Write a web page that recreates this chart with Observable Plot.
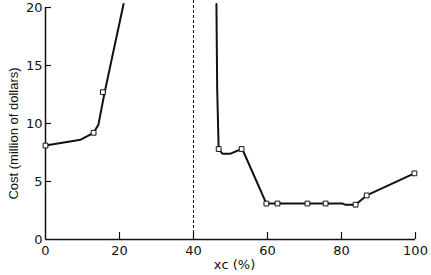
<!DOCTYPE html>
<html><head><meta charset="utf-8">
<script src="https://cdn.jsdelivr.net/npm/d3@7"></script>
<script src="https://cdn.jsdelivr.net/npm/@observablehq/plot@0.6"></script>
<style>
html,body{margin:0;padding:0;background:#fff;}
#chart svg{display:block;}
</style>
</head><body><div id="chart"></div>
<script>
// Left branch (line nodes)
const leftX = [0, 9.5, 13, 14.3, 16, 18.4, 21.1];
const leftY = [8.1, 8.6, 9.2, 9.9, 12.7, 16.3, 20.3];
// Right branch (line nodes)
const rightX = [46.2, 46.4, 46.8, 47.8, 50, 53, 53.6, 59.7, 62.7, 70.8, 75.7, 80.3, 81, 83.8, 86.8, 99.7];
const rightY = [20.3, 13, 7.8, 7.4, 7.4, 7.8, 7.5, 3.1, 3.1, 3.1, 3.1, 3.1, 3.0, 3.0, 3.8, 5.7];
// Markers
const markX = [0, 13, 15.5, 46.8, 53, 59.7, 62.7, 70.8, 75.7, 83.8, 86.8, 99.7];
const markY = [8.1, 9.2, 12.7, 7.8, 7.8, 3.1, 3.1, 3.1, 3.1, 3.0, 3.8, 5.7];
// Ticks and labels
const xTicks = [0, 20, 40, 60, 80, 100];
const yTicks = [0, 5, 10, 15, 20];
const xInnerTicks = [20, 40, 60, 80, 100];
const yInnerTicks = [5, 10, 15, 20];
const dividerX = [40];
const xLabel = "xᴄ (%)";
const yLabel = "Cost (million of dollars)";

const left = leftX.map((x, i) => ({x, y: leftY[i]}));
const right = rightX.map((x, i) => ({x, y: rightY[i]}));
const marks = markX.map((x, i) => ({x, y: markY[i]}));

const ink = "#111";
const chart = Plot.plot({
  width: 431, height: 275,
  marginLeft: 45, marginRight: 16, marginTop: 7, marginBottom: 36,
  style: {background: "#fff", color: ink, fontFamily: "DejaVu Sans", fontSize: "13px"},
  x: {domain: [0, 100]},
  y: {domain: [0, 20]},
  marks: [
    Plot.axisX({ticks: xTicks, tickSize: 0, tickPadding: 6, label: null, fontSize: 13, fontFamily: "DejaVu Sans"}),
    Plot.axisY({ticks: yTicks, tickSize: 0, tickPadding: 3, label: null, fontSize: 13, fontFamily: "DejaVu Sans"}),
    Plot.ruleX(xInnerTicks, {x: d => d, y1: 0, y2: 0, insetTop: -7, stroke: ink, strokeWidth: 1.2}),
    Plot.ruleY(yInnerTicks, {y: d => d, x1: 0, x2: 0, insetRight: -6, stroke: ink, strokeWidth: 1.2}),
    Plot.ruleX(dividerX, {x: d => d, stroke: ink, strokeWidth: 1, strokeDasharray: "3,2", insetTop: -7}),
    Plot.ruleX([0], {stroke: ink, strokeWidth: 1.5}),
    Plot.ruleY([0], {stroke: ink, strokeWidth: 1.5}),
    Plot.line(left, {x: "x", y: "y", stroke: ink, strokeWidth: 2, clip: false}),
    Plot.line(right, {x: "x", y: "y", stroke: ink, strokeWidth: 2, clip: false}),
    Plot.dot(marks, {x: "x", y: "y", symbol: "square", r: 2.7, stroke: ink, fill: "#fff", strokeWidth: 1}),
    Plot.text([yLabel], {text: d => d, frameAnchor: "left", textAnchor: "middle", rotate: -90, dx: -32, dy: 10, fontSize: 13, fontFamily: "Liberation Sans", fill: ink}),
    Plot.text([xLabel], {text: d => d, frameAnchor: "bottom", dy: 29, dx: 4, fontSize: 13, fontFamily: "DejaVu Sans", fill: ink})
  ]
});
document.getElementById("chart").appendChild(chart);
</script>
</body></html>
